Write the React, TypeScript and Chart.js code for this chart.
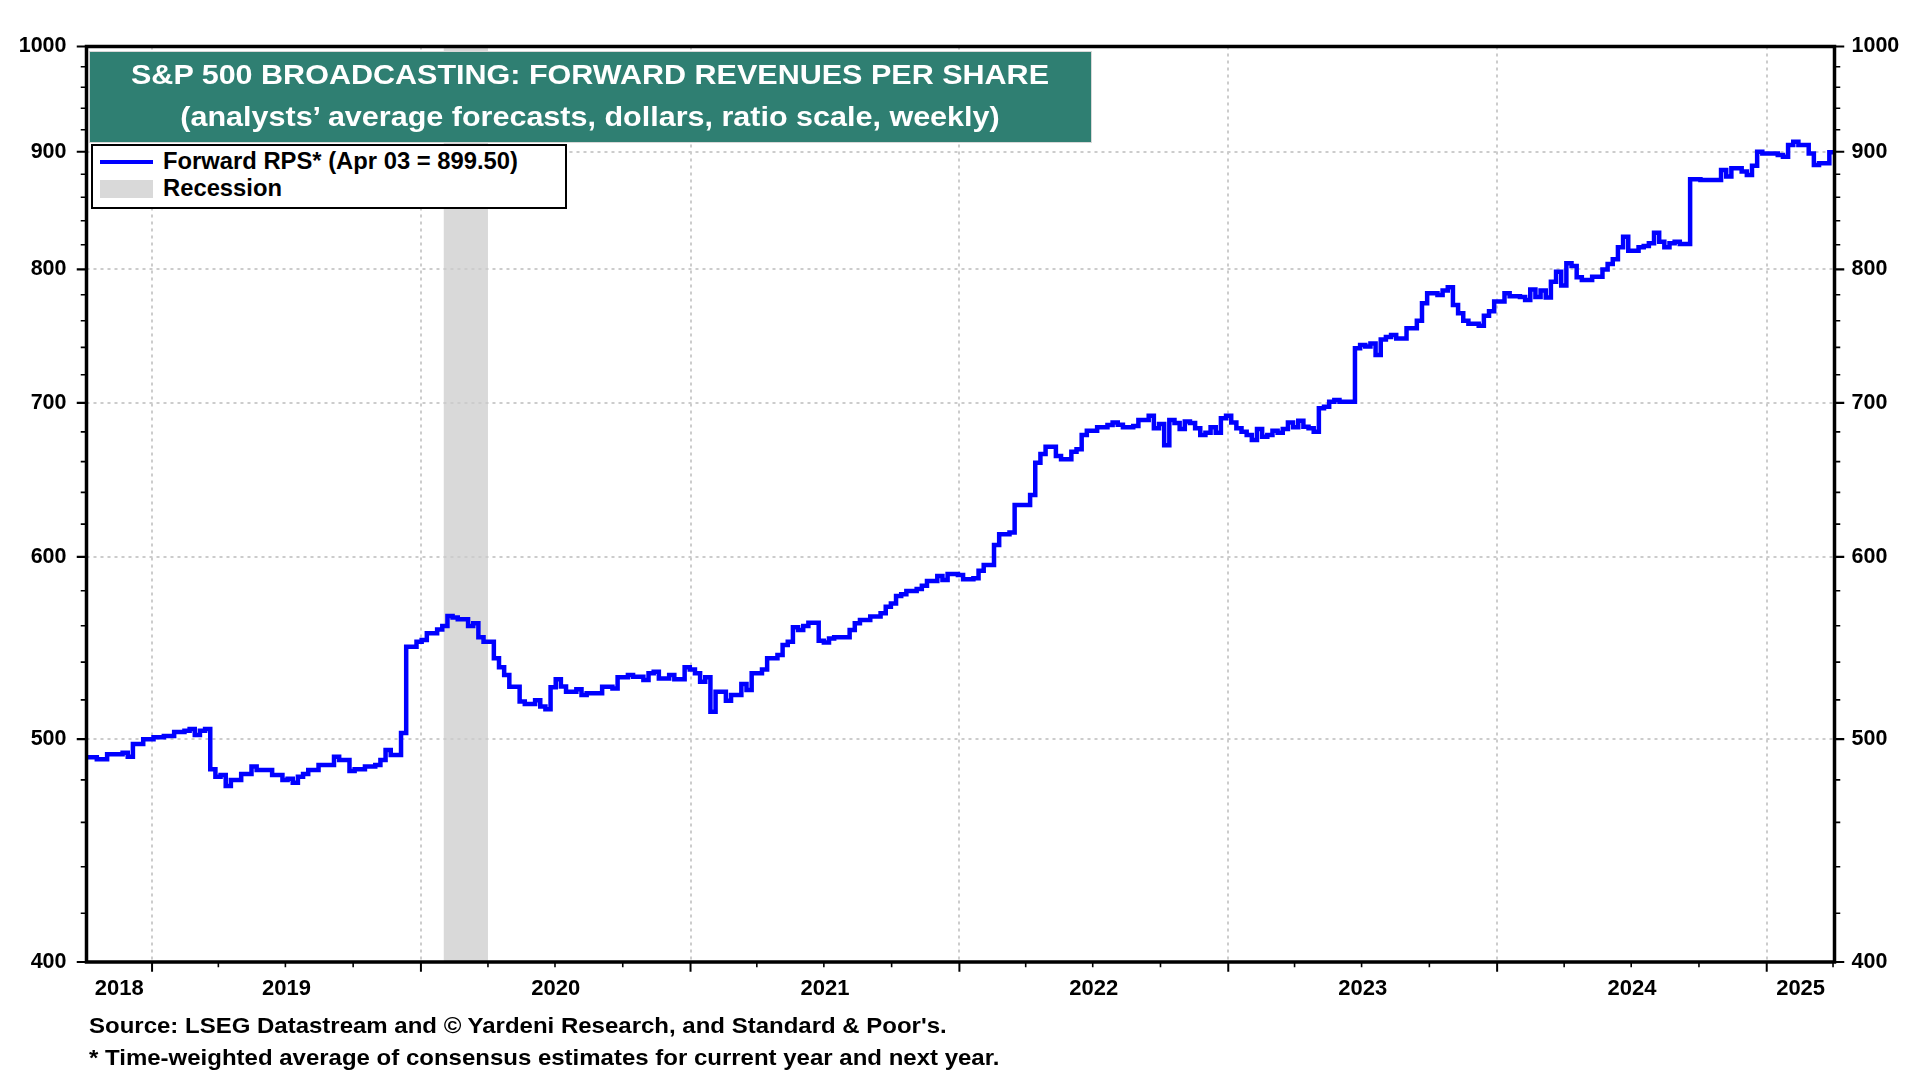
import React, { useEffect, useRef } from 'react';
import { Chart, registerables } from 'chart.js';

Chart.register(...registerables);

// ---------------- data ----------------
const START_DATE = '2018-10-04';
const END_DATE = '2025-04-03';

// weeks since START_DATE at which the weekly value changes
const weekIndex = [
  0, 2, 4, 7, 8, 9, 11, 13, 15, 17, 19, 20, 21, 22, 23, 24, 25, 26, 27, 28,
  30, 32, 33, 36, 38, 39, 40, 41, 42, 43, 45, 48, 49, 51, 52, 54, 56, 57, 58, 59,
  61, 62, 64, 65, 66, 68, 69, 70, 71, 72, 74, 75, 76, 77, 79, 80, 81, 82, 84, 85,
  87, 88, 89, 90, 91, 92, 93, 95, 96, 97, 100, 102, 103, 105, 106, 108, 109, 110, 111, 113,
  114, 116, 117, 118, 119, 120, 121, 122, 124, 125, 127, 128, 129, 131, 132, 134, 135, 136, 137, 138,
  139, 140, 142, 143, 144, 145, 148, 149, 150, 152, 154, 155, 156, 157, 158, 159, 161, 162, 163, 165,
  166, 167, 169, 170, 172, 173, 174, 176, 177, 179, 180, 183, 184, 185, 186, 188, 189, 191, 192, 193,
  194, 196, 198, 199, 200, 201, 203, 204, 206, 207, 208, 209, 210, 211, 212, 213, 214, 215, 216, 217,
  218, 219, 220, 221, 222, 223, 224, 225, 226, 227, 228, 229, 230, 231, 232, 233, 234, 235, 236, 237,
  238, 239, 240, 241, 242, 243, 246, 247, 248, 249, 250, 251, 252, 253, 254, 256, 258, 259, 260, 262,
  263, 264, 265, 266, 267, 268, 270, 271, 272, 273, 275, 276, 278, 279, 280, 281, 282, 283, 284, 285,
  286, 287, 288, 289, 290, 292, 294, 295, 296, 297, 298, 299, 301, 302, 303, 304, 305, 306, 307, 308,
  309, 311, 313, 317, 318, 319, 321, 322, 323, 324, 325, 328, 329, 330, 331, 332, 334, 335, 336, 338,
  339,
];

// forward revenues per share (dollars)
const rpsValues = [
  491.0, 490.0, 492.4, 493.2, 491.2, 497.5, 499.9, 500.9, 501.5, 503.5, 504.2, 505.0, 502.0, 504.2, 505.0, 485.1, 481.5, 482.3, 477.0, 479.9,
  482.8, 486.4, 484.8, 482.3, 479.9, 480.5, 478.6, 481.5, 482.8, 484.8, 487.2, 491.2, 489.6, 484.3, 485.1, 486.4, 487.2, 489.6, 494.6, 492.1,
  503.0, 548.4, 551.2, 552.1, 555.8, 558.0, 559.9, 565.5, 564.7, 563.7, 559.9, 561.4, 553.6, 551.2, 542.1, 537.2, 533.1, 526.9, 519.1, 517.8,
  519.8, 516.5, 515.1, 526.6, 530.8, 527.0, 524.3, 525.5, 522.5, 523.4, 526.9, 526.0, 531.9, 533.1, 532.2, 530.4, 534.0, 534.9, 531.3, 533.1,
  530.8, 537.2, 536.1, 534.0, 529.5, 531.9, 513.9, 524.3, 519.6, 522.5, 528.3, 525.2, 534.0, 536.1, 542.1, 543.9, 549.3, 551.2, 559.2, 557.7,
  559.9, 561.7, 551.7, 550.7, 553.0, 553.6, 557.7, 561.4, 563.3, 565.2, 567.1, 570.8, 572.7, 576.9, 578.0, 579.8, 581.0, 582.9, 585.7, 588.6,
  586.3, 589.8, 589.2, 586.7, 587.3, 591.8, 595.2, 607.2, 613.7, 614.8, 632.0, 638.3, 659.3, 665.0, 670.0, 663.7, 661.6, 666.6, 668.2, 677.8,
  680.8, 683.1, 684.7, 686.3, 684.8, 683.1, 684.0, 688.1, 691.1, 682.4, 685.4, 671.0, 688.1, 686.0, 681.9, 687.0, 686.0, 682.4, 677.8, 679.3,
  683.1, 679.3, 689.3, 691.1, 686.3, 682.4, 680.0, 677.8, 674.4, 681.9, 676.7, 677.8, 680.8, 679.3, 681.9, 686.3, 683.1, 687.6, 683.5, 682.4,
  680.0, 696.2, 697.3, 700.8, 702.0, 700.8, 739.3, 741.8, 740.6, 742.8, 734.4, 745.9, 747.7, 749.2, 746.6, 754.2, 760.0, 773.3, 781.1, 779.8,
  783.3, 785.8, 772.0, 765.7, 760.0, 757.6, 756.2, 763.8, 767.3, 774.7, 781.1, 778.8, 778.3, 775.9, 784.1, 778.3, 783.3, 777.8, 790.2, 798.2,
  787.3, 804.9, 802.8, 793.7, 791.6, 794.2, 800.0, 804.4, 808.2, 817.9, 826.6, 815.1, 817.9, 819.0, 821.2, 830.0, 822.5, 817.9, 821.2, 822.5,
  820.6, 875.5, 875.0, 883.7, 877.9, 885.2, 882.3, 879.4, 887.4, 900.0, 898.5, 897.1, 895.6, 906.1, 909.1, 906.1, 898.5, 888.2, 889.7, 899.5,
  899.5,
];

const yTickValues = [400, 500, 600, 700, 800, 900, 1000];
const yGridValues = [500, 600, 700, 800, 900];
const yMinorStep = 20;
const yearLabels = ['2018', '2019', '2020', '2021', '2022', '2023', '2024', '2025'];
const gridYears = [2019, 2020, 2021, 2022, 2023, 2024, 2025];
const recessionStart = '2020-02-01';
const recessionEnd = '2020-04-01';

const TITLE_LINE_1 = 'S&P 500 BROADCASTING: FORWARD REVENUES PER SHARE';
const TITLE_LINE_2 = '(analysts\u2019 average forecasts, dollars, ratio scale, weekly)';
const LEGEND_LINE = 'Forward RPS* (Apr 03 = 899.50)';
const LEGEND_RECESSION = 'Recession';
const SOURCE_TEXT = "Source: LSEG Datastream and \u00A9 Yardeni Research, and Standard & Poor's.";
const NOTE_TEXT = '* Time-weighted average of consensus estimates for current year and next year.';

// ---------------- helpers ----------------
const DAY = 86400000;
const FONT = '"Liberation Sans", Arial, Helvetica, sans-serif';
const toMs = (s: string) => {
  const [y, m, d] = s.split('-').map(Number);
  return Date.UTC(y, m - 1, d);
};

const decorPlugin = {
  id: 'decor',
  beforeDatasetsDraw(chart: any) {
    const { ctx, chartArea: a, scales } = chart;
    const x = scales.x;
    const y = scales.y;
    ctx.save();
    // recession shading
    const r0 = x.getPixelForValue(toMs(recessionStart));
    const r1 = x.getPixelForValue(toMs(recessionEnd));
    ctx.fillStyle = '#D9D9D9';
    ctx.fillRect(r0, a.top, r1 - r0, a.bottom - a.top);
    // dotted grid
    ctx.strokeStyle = '#CCCCCC';
    ctx.lineWidth = 2;
    ctx.setLineDash([3, 4]);
    for (const v of yGridValues) {
      const py = Math.round(y.getPixelForValue(v));
      ctx.beginPath();
      ctx.moveTo(a.left, py);
      ctx.lineTo(a.right, py);
      ctx.stroke();
    }
    for (const yr of gridYears) {
      const px = Math.round(x.getPixelForValue(Date.UTC(yr, 0, 1)));
      ctx.beginPath();
      ctx.moveTo(px, a.top);
      ctx.lineTo(px, a.bottom);
      ctx.stroke();
    }
    ctx.restore();
  },
  afterDatasetsDraw(chart: any) {
    const { ctx, chartArea: a, scales } = chart;
    const x = scales.x;
    const y = scales.y;
    const bw = 3.5;
    ctx.save();
    ctx.setLineDash([]);
    ctx.strokeStyle = '#000';
    // y ticks (both sides)
    const yMin = yTickValues[0];
    const yMax = yTickValues[yTickValues.length - 1];
    for (let v = yMin; v <= yMax; v += yMinorStep) {
      const major = v % 100 === 0;
      const len = major ? 8 : 4;
      ctx.lineWidth = major ? 2.2 : 1.6;
      const py = y.getPixelForValue(v);
      ctx.beginPath();
      ctx.moveTo(a.left - bw / 2 - len, py);
      ctx.lineTo(a.left, py);
      ctx.moveTo(a.right, py);
      ctx.lineTo(a.right + bw / 2 + len, py);
      ctx.stroke();
    }
    // x ticks (quarters, years longer)
    const minMs = x.min;
    const maxMs = x.max;
    for (let yr = 2018; yr <= 2025; yr++) {
      for (const m of [0, 3, 6, 9]) {
        const t = Date.UTC(yr, m, 1);
        if (t <= minMs || t >= maxMs) continue;
        const major = m === 0;
        const len = major ? 8 : 3.5;
        ctx.lineWidth = major ? 2 : 1.6;
        const px = x.getPixelForValue(t);
        ctx.beginPath();
        ctx.moveTo(px, a.bottom);
        ctx.lineTo(px, a.bottom + bw / 2 + len);
        ctx.stroke();
      }
    }
    // frame
    ctx.lineWidth = bw;
    ctx.strokeRect(a.left, a.top, a.right - a.left, a.bottom - a.top);
    ctx.restore();
  },
};

export default function App() {
  const canvasRef = useRef<HTMLCanvasElement>(null);

  useEffect(() => {
    document.body.style.margin = '0';
    const canvas = canvasRef.current;
    if (!canvas) return;
    const minMs = toMs(START_DATE);
    const maxMs = toMs(END_DATE);
    const points = weekIndex.map((w, i) => ({ x: minMs + w * 7 * DAY, y: rpsValues[i] }));
    const labelPos = yearLabels.map((lbl) => {
      const Y = Number(lbl);
      const a = Math.max(minMs, Date.UTC(Y, 0, 1));
      const b = Math.min(maxMs, Date.UTC(Y + 1, 0, 1));
      return (a + b) / 2;
    });
    const tickFont = { family: FONT, size: 21.5, weight: 'bold' as const, lineHeight: 1.2 };

    const chart = new Chart(canvas, {
      type: 'line',
      data: {
        datasets: [
          {
            label: 'Forward RPS',
            data: points,
            borderColor: '#0000FF',
            backgroundColor: '#0000FF',
            borderWidth: 4.5,
            pointRadius: 0,
            stepped: true,
            fill: false,
            yAxisID: 'y',
          },
        ],
      },
      options: {
        animation: false,
        responsive: false,
        devicePixelRatio: 1,
        layout: { padding: { top: 46.5, left: 0, right: 0, bottom: 0 } },
        plugins: {
          legend: { display: false },
          tooltip: { enabled: false },
          title: { display: false },
        },
        scales: {
          x: {
            type: 'linear',
            position: 'bottom',
            min: minMs,
            max: maxMs,
            grid: { display: false, drawTicks: false },
            border: { display: false },
            afterBuildTicks: (s: any) => {
              s.ticks = labelPos.map((v) => ({ value: v }));
            },
            afterFit: (s: any) => {
              s.height = 118;
            },
            ticks: {
              autoSkip: false,
              maxRotation: 0,
              minRotation: 0,
              padding: 14,
              color: '#000',
              font: { family: FONT, size: 22, weight: 'bold', lineHeight: 1.2 },
              callback: (_v: any, i: number) => yearLabels[i],
            },
          },
          y: {
            type: 'logarithmic',
            position: 'left',
            min: 400,
            max: 1000,
            grid: { display: false, drawTicks: false },
            border: { display: false },
            afterBuildTicks: (s: any) => {
              s.ticks = yTickValues.map((v) => ({ value: v }));
            },
            afterFit: (s: any) => {
              s.width = 86.5;
            },
            ticks: {
              autoSkip: false,
              padding: 20,
              color: '#000',
              font: tickFont,
              callback: (v: any) => String(v),
            },
          },
          y2: {
            type: 'logarithmic',
            position: 'right',
            min: 400,
            max: 1000,
            grid: { display: false, drawTicks: false },
            border: { display: false },
            afterBuildTicks: (s: any) => {
              s.ticks = yTickValues.map((v) => ({ value: v }));
            },
            afterFit: (s: any) => {
              s.width = 85.5;
            },
            ticks: {
              autoSkip: false,
              padding: 17,
              color: '#000',
              font: tickFont,
              callback: (v: any) => String(v),
            },
          },
        },
      } as any,
      plugins: [decorPlugin],
    });
    return () => chart.destroy();
  }, []);

  const abs = (o: React.CSSProperties): React.CSSProperties => ({ position: 'absolute', ...o });

  return (
    <div style={{ position: 'absolute', left: 0, top: 0, width: 1920, height: 1080, background: '#fff', overflow: 'hidden', fontFamily: FONT }}>
      <canvas ref={canvasRef} width={1920} height={1080} style={{ position: 'absolute', left: 0, top: 0, width: 1920, height: 1080 }} />

      {/* title box */}
      <div style={abs({ left: 88.5, top: 50.5, width: 1003, height: 92, boxSizing: 'border-box', border: '1.5px solid #D8D8D8', background: '#2F7F72' })} />
      <div style={abs({ left: 90, top: 61.3, width: 1000, textAlign: 'center', color: '#fff', fontWeight: 'bold', fontSize: 28, lineHeight: '28px', whiteSpace: 'nowrap', transform: 'scaleX(1.09)', transformOrigin: 'center' })}>
        {TITLE_LINE_1}
      </div>
      <div style={abs({ left: 90, top: 103, width: 1000, textAlign: 'center', color: '#fff', fontWeight: 'bold', fontSize: 28, lineHeight: '28px', whiteSpace: 'nowrap', transform: 'scaleX(1.09)', transformOrigin: 'center' })}>
        {TITLE_LINE_2}
      </div>

      {/* legend */}
      <div style={abs({ left: 91, top: 144.3, width: 475.7, height: 64.7, boxSizing: 'border-box', border: '2.5px solid #000', background: '#fff' })} />
      <div style={abs({ left: 100, top: 160.3, width: 53.3, height: 4, background: '#0000FF' })} />
      <div style={abs({ left: 100, top: 180, width: 53.3, height: 18.3, background: '#D9D9D9' })} />
      <div style={abs({ left: 163.3, top: 150.1, color: '#000', fontWeight: 'bold', fontSize: 23.5, lineHeight: '23.5px', whiteSpace: 'nowrap', transform: 'scaleX(1.012)', transformOrigin: 'left' })}>
        {LEGEND_LINE}
      </div>
      <div style={abs({ left: 163.3, top: 177.1, color: '#000', fontWeight: 'bold', fontSize: 23.5, lineHeight: '23.5px', whiteSpace: 'nowrap', transform: 'scaleX(1.012)', transformOrigin: 'left' })}>
        {LEGEND_RECESSION}
      </div>

      {/* footnotes */}
      <div style={abs({ left: 89.4, top: 1016.1, color: '#000', fontWeight: 'bold', fontSize: 21.5, lineHeight: '21.5px', whiteSpace: 'nowrap', transform: 'scaleX(1.116)', transformOrigin: 'left' })}>
        {SOURCE_TEXT}
      </div>
      <div style={abs({ left: 89.4, top: 1047.8, color: '#000', fontWeight: 'bold', fontSize: 21.5, lineHeight: '21.5px', whiteSpace: 'nowrap', transform: 'scaleX(1.116)', transformOrigin: 'left' })}>
        {NOTE_TEXT}
      </div>
    </div>
  );
}
